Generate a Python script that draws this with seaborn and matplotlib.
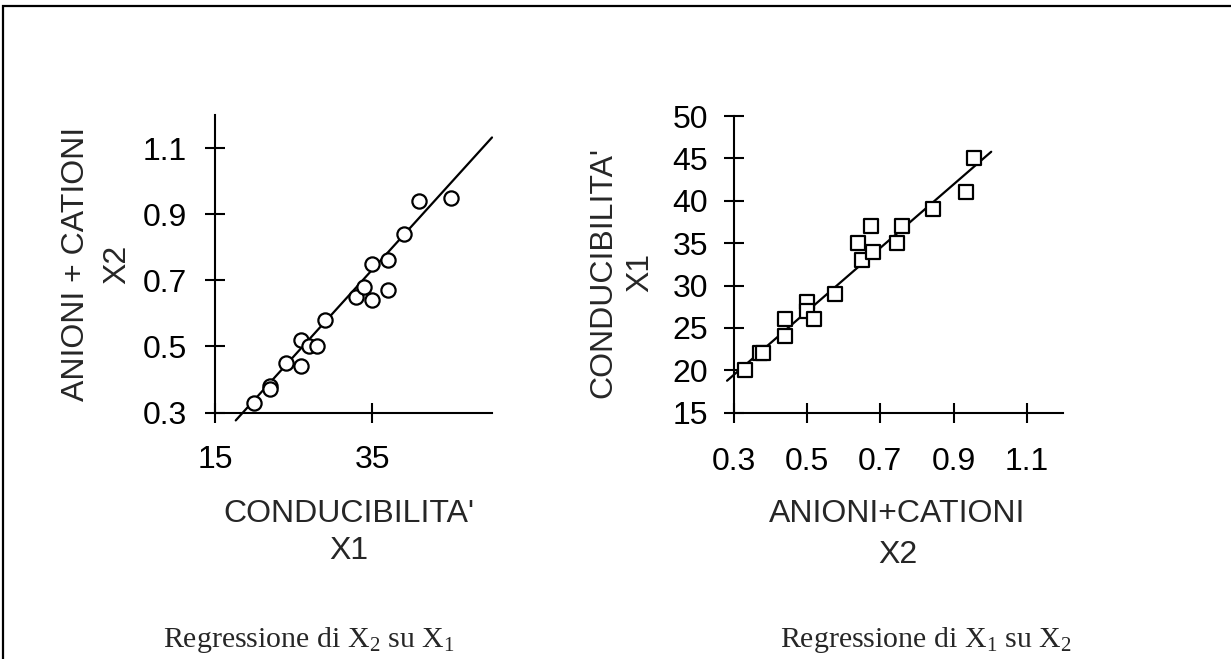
import matplotlib
matplotlib.use("Agg")
import matplotlib.pyplot as plt
from matplotlib.patches import Rectangle
import numpy as np
import pandas as pd
import seaborn as sns

# Regressione di X2 su X1: conducibilita' (X1) vs anioni + cationi (X2)
cond_x1 = [20, 22, 22, 24, 26, 26, 27, 28, 29, 33, 34, 35, 35, 37, 37, 39, 41, 45]
ioni_x2 = [0.33, 0.38, 0.37, 0.45, 0.44, 0.52, 0.50, 0.50, 0.58,
           0.65, 0.68, 0.64, 0.75, 0.76, 0.67, 0.84, 0.94, 0.95]
line21_x = [17.64, 50.25]
line21_intercept, line21_slope = -0.187, 0.02625

# Regressione di X1 su X2
ioni_b = [0.33, 0.37, 0.38, 0.44, 0.44, 0.50, 0.50, 0.52, 0.575,
          0.64, 0.65, 0.675, 0.68, 0.745, 0.76, 0.845, 0.935, 0.955]
cond_b = [20, 22, 22, 26, 24, 28, 27, 26, 29, 35, 33, 37, 34, 35, 37, 39, 41, 45]
line12_x = [0.281, 1.003]
line12_intercept, line12_slope = 8.26, 37.41

left_xticks = [15, 35]
left_yticks = [0.3, 0.5, 0.7, 0.9, 1.1]
right_xticks = [0.3, 0.5, 0.7, 0.9, 1.1]
right_yticks = [15, 20, 25, 30, 35, 40, 45, 50]

sns.set_style("white")
plt.rcParams["font.family"] = ["Liberation Sans", "DejaVu Sans"]
plt.rcParams["mathtext.fontset"] = "custom"
plt.rcParams["mathtext.rm"] = "Liberation Serif"
plt.rcParams["mathtext.it"] = "Liberation Serif:italic"

W, H = 1231, 659
fig = plt.figure(figsize=(W / 100, H / 100), dpi=100)
fig.patch.set_facecolor("white")

# page frame, open to the right and bottom
top = 1 - 6 / H
fig.add_artist(Rectangle((3 / W, -0.2), 1.2, top + 0.2,
                         transform=fig.transFigure, fill=False,
                         edgecolor="black", linewidth=1.6))

ax1 = fig.add_axes([215 / W, 1 - 412.5 / H, 277 / W, 297.5 / H])
ax2 = fig.add_axes([734 / W, 1 - 412.7 / H, 329.3 / W, 296.7 / H])

df1 = pd.DataFrame({"X1": cond_x1, "X2": ioni_x2})
df2 = pd.DataFrame({"X2": ioni_b, "X1": cond_b})

l1 = pd.DataFrame({"x": line21_x,
                   "y": [line21_intercept + line21_slope * v for v in line21_x]})
l2 = pd.DataFrame({"x": line12_x,
                   "y": [line12_intercept + line12_slope * v for v in line12_x]})

sns.lineplot(data=l1, x="x", y="y", ax=ax1, color="black", linewidth=1.6)
sns.scatterplot(data=df1, x="X1", y="X2", ax=ax1, marker="o", s=105,
                facecolor="white", edgecolor="black", linewidth=1.6, zorder=3)

sns.lineplot(data=l2, x="x", y="y", ax=ax2, color="black", linewidth=1.6)
sns.scatterplot(data=df2, x="X2", y="X1", ax=ax2, marker="s", s=110,
                facecolor="white", edgecolor="black", linewidth=1.6, zorder=3)

for ax in (ax1, ax2):
    for ln in ax.lines:
        ln.set_clip_on(False)
    for c in ax.collections:
        c.set_clip_on(False)
    for side in ("top", "right"):
        ax.spines[side].set_visible(False)
    for side in ("left", "bottom"):
        ax.spines[side].set_color("black")
        ax.spines[side].set_linewidth(1.5)
    ax.set_facecolor("none")
    ax.tick_params(direction="inout", length=15, width=1.5, colors="black",
                   labelsize=23, bottom=True, left=True)

ax1.set_xlim(15, 50.25)
ax1.set_ylim(0.3, 1.2)
ax1.set_xticks(left_xticks)
ax1.set_xticklabels([str(v) for v in left_xticks])
ax1.set_yticks(left_yticks)
ax1.set_yticklabels([f"{v:.1f}" for v in left_yticks])
ax1.tick_params(axis="x", pad=16)
ax1.tick_params(axis="y", pad=13)

ax2.set_xlim(0.3, 1.2)
ax2.set_ylim(15, 50)
ax2.set_xticks(right_xticks)
ax2.set_xticklabels([f"{v:.1f}" for v in right_xticks])
ax2.set_yticks(right_yticks)
ax2.set_yticklabels([str(v) for v in right_yticks])
ax2.tick_params(axis="x", pad=17)
ax2.tick_params(axis="y", pad=11)

ax1.set_xlabel("CONDUCIBILITA'\nX1", fontsize=23, linespacing=1.31, va="top")
ax1.xaxis.set_label_coords(0.4845, -0.29)
ax1.set_ylabel("ANIONI + CATIONI\nX2", fontsize=23, linespacing=1.49)
ax1.yaxis.set_label_coords(-0.30, 0.498)

ax2.set_xlabel("ANIONI+CATIONI\nX2", fontsize=23, linespacing=1.5, va="top")
ax2.xaxis.set_label_coords(0.4965, -0.29)
ax2.set_ylabel("CONDUCIBILITA'\nX1", fontsize=23, linespacing=1.3)
ax2.yaxis.set_label_coords(-0.24, 0.4725)

cap_kw = dict(fontsize=21.5, family=["Liberation Serif", "DejaVu Serif"],
              ha="left", va="baseline")
fig.text(163 / W, 1 - 647 / H, r"Regressione di X$_2$ su X$_1$", **cap_kw)
fig.text(780 / W, 1 - 647 / H, r"Regressione di X$_1$ su X$_2$", **cap_kw)

fig.savefig("out.png", dpi=100)
